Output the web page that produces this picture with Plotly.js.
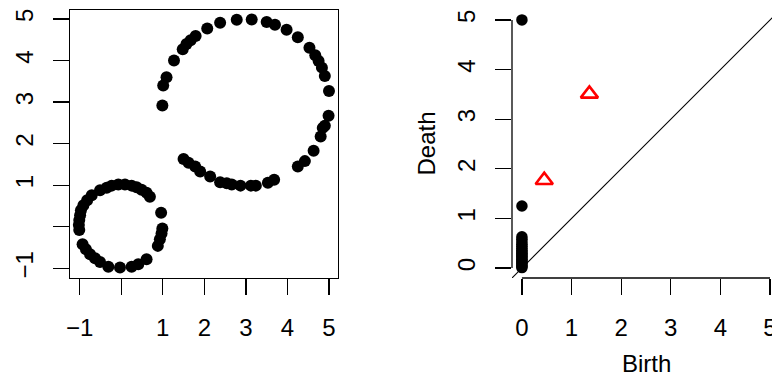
<!DOCTYPE html>
<html>
<head>
<meta charset="utf-8">
<script src="https://cdn.plot.ly/plotly-3.0.1.min.js"></script>
<style>
  html, body { margin: 0; padding: 0; background: #fff; overflow: hidden; }
  #chart { width: 772px; height: 378px; }
</style>
</head>
<body>
<div id="chart"></div>
<script>
// point cloud: small circle around (0,0), big circle around (3,3)
var smallX = [0.69, 0.61, 0.49, 0.37, 0.25, 0.09, -0.07, -0.23, -0.35, -0.51, -0.71, -0.82, -0.91, -0.97, -0.99, -1.01, -1.02, -1.01,
              -0.93, -0.85, -0.75, -0.63, -0.51, -0.31, -0.03, 0.25, 0.41, 0.61, 0.88, 0.93, 0.97, 0.99, 0.96];
var smallY = [0.72, 0.82, 0.89, 0.95, 0.99, 1.02, 1.02, 0.99, 0.94, 0.88, 0.76, 0.64, 0.52, 0.40, 0.28, 0.16, 0.04, -0.08,
              -0.42, -0.54, -0.66, -0.76, -0.85, -0.96, -0.98, -0.96, -0.90, -0.78, -0.46, -0.30, -0.16, -0.04, 0.34];
var bigX = [0.99, 1.01, 1.09, 1.27, 1.48, 1.57, 1.67, 1.79, 2.07, 2.38, 2.78, 3.14, 3.50, 3.70, 3.98, 4.25, 4.53, 4.67, 4.75, 4.83, 4.90, 5.00,
            4.99, 4.90, 4.85, 4.80, 4.63, 4.42, 4.25,
            3.68, 3.53, 3.24, 3.12, 2.87, 2.66, 2.54, 2.38, 2.14, 1.90, 1.78, 1.62, 1.50];
var bigY = [2.92, 3.40, 3.60, 4.00, 4.27, 4.40, 4.49, 4.59, 4.77, 4.91, 4.98, 4.99, 4.93, 4.86, 4.74, 4.56, 4.31, 4.13, 3.99, 3.83, 3.63, 3.27,
            2.67, 2.43, 2.38, 2.17, 1.83, 1.58, 1.45,
            1.13, 1.06, 0.99, 0.99, 0.99, 1.02, 1.05, 1.07, 1.21, 1.33, 1.45, 1.54, 1.63];
var cloudTicks = [-1, 0, 1, 2, 3, 4, 5];
var cloudTickText = ["\u22121", "", "1", "2", "3", "4", "5"];

// persistence diagram
var dim0Birth = [0, 0, 0, 0, 0, 0, 0, 0, 0, 0, 0, 0, 0, 0, 0, 0, 0, 0, 0, 0, 0];
var dim0Death = [5.0, 1.25, 0.63, 0.58, 0.53, 0.48, 0.44, 0.40, 0.36, 0.33, 0.30, 0.27, 0.24, 0.21, 0.18, 0.15, 0.12, 0.09, 0.06, 0.03, 0.01];
var dim1Birth = [0.45, 1.36];
var dim1Death = [1.77, 3.51];
var diagLine = [-0.2, 5.2];
var diagTicks = [0, 1, 2, 3, 4, 5];

var W = 772, H = 378;
var fnt = {family: "Liberation Sans, Arial, sans-serif", size: 24, color: "#000"};

var data = [
  {x: smallX.concat(bigX), y: smallY.concat(bigY), type: "scatter", mode: "markers",
   marker: {color: "#000", size: 12}, xaxis: "x", yaxis: "y", hoverinfo: "none"},
  {x: diagLine, y: diagLine, type: "scatter", mode: "lines",
   line: {color: "#000", width: 1.1}, xaxis: "x2", yaxis: "y2", hoverinfo: "none"},
  {x: dim0Birth, y: dim0Death, type: "scatter", mode: "markers",
   marker: {color: "#000", size: 11.5}, xaxis: "x2", yaxis: "y2", cliponaxis: false, hoverinfo: "none"},
  {x: dim1Birth, y: dim1Death, type: "scatter", mode: "markers",
   marker: {symbol: "triangle-up-open", color: "#ff0000", size: 15, line: {color: "#ff0000", width: 2.6}},
   xaxis: "x2", yaxis: "y2", hoverinfo: "none"}
];

var tickStyle = {ticks: "outside", ticklen: 16, tickwidth: 1.3, tickcolor: "#000",
  showgrid: false, zeroline: false, tickfont: fnt, ticklabelstandoff: 12, ticklabeloverflow: "allow"};

var layout = {
  width: W, height: H, showlegend: false,
  margin: {l: 0, r: 0, t: 10, b: 100},
  paper_bgcolor: "#fff", plot_bgcolor: "#fff",
  font: fnt,
  xaxis: Object.assign({}, tickStyle, {domain: [70 / W, 338 / W], range: [-1.233, 5.217],
    tickvals: cloudTicks, ticktext: cloudTickText, showline: true, mirror: true, linecolor: "#000", linewidth: 1.3}),
  yaxis: Object.assign({}, tickStyle, {range: [-1.233, 5.217], tickangle: -90, ticklabelstandoff: 10,
    tickvals: cloudTicks, ticktext: cloudTickText, showline: true, mirror: true, linecolor: "#000", linewidth: 1.3}),
  xaxis2: Object.assign({}, tickStyle, {domain: [512 / W, 1], range: [-0.2, 5.04], anchor: "y2",
    tickvals: diagTicks, showline: false}),
  yaxis2: Object.assign({}, tickStyle, {range: [-0.2, 5.2], anchor: "x2", tickangle: -90, ticklabelstandoff: 10,
    tickvals: diagTicks, showline: false}),
  shapes: [
    {type: "line", xref: "x2", yref: "y2 domain", x0: 0, x1: 5, y0: 0, y1: 0, line: {color: "#000", width: 1.3}},
    {type: "line", xref: "x2 domain", yref: "y2", x0: 0, x1: 0, y0: 0, y1: 5, line: {color: "#000", width: 1.3}}
  ],
  annotations: [
    {text: "Birth", xref: "paper", yref: "paper", x: 646 / W, y: (278 - 363) / 268,
     xanchor: "center", yanchor: "middle", showarrow: false, font: fnt},
    {text: "Death", xref: "paper", yref: "paper", x: 426 / W, y: 0.502, textangle: -90,
     xanchor: "center", yanchor: "middle", showarrow: false, font: fnt}
  ]
};

Plotly.newPlot("chart", data, layout, {staticPlot: true});
</script>
</body>
</html>
